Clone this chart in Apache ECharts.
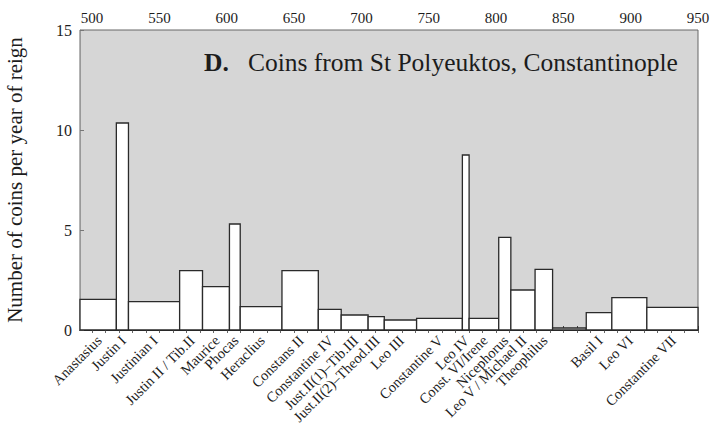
<!DOCTYPE html>
<html>
<head>
<meta charset="utf-8">
<script src="https://cdn.jsdelivr.net/npm/echarts@6/dist/echarts.min.js"></script>
<style>
  html, body { margin: 0; padding: 0; background: #fff; }
  #chart { width: 713px; height: 440px; }
</style>
</head>
<body>
<div id="chart"></div>
<script>
// Reigns of Byzantine emperors and coin finds per year of reign
const rulers = ['Anastasius', 'Justin I', 'Justinian I', 'Justin II / Tib.II', 'Maurice', 'Phocas',
  'Heraclius', 'Constans II', 'Constantine IV', 'Just.II(1)\u2013Tib.III', 'Just.II(2)\u2013Theod.III',
  'Leo III', 'Constantine V', 'Leo IV', 'Const. VI/Irene', 'Nicephorus', 'Leo V / Michael II',
  'Theophilus', '', 'Basil I', 'Leo VI', 'Constantine VII'];
const reignStart = [491, 518, 527, 565, 582, 602, 610, 641, 668, 685, 705, 717, 741, 775, 780, 802, 811, 829, 842, 867, 886, 912];
const reignEnd   = [518, 527, 565, 582, 602, 610, 641, 668, 685, 705, 717, 741, 775, 780, 802, 811, 829, 842, 867, 886, 912, 959];
const coinsPerYear = [1.53, 10.35, 1.42, 2.97, 2.17, 5.3, 1.17, 2.97, 1.03, 0.75, 0.67, 0.5, 0.58, 8.75, 0.58, 4.63, 2.0, 3.03, 0.1, 0.87, 1.62, 1.13];
const yearTicks = [500, 550, 600, 650, 700, 750, 800, 850, 900, 950];
const yTicks = [0, 5, 10, 15];

const SERIF = '"Liberation Serif", "DejaVu Serif", serif';
const INK = '#1c1c1c';
const decadeTicks = [];
for (let y = 500; y <= 950; y += 10) decadeTicks.push(y);

const chart = echarts.init(document.getElementById('chart'), null, { renderer: 'svg' });

function renderReign(params, api) {
  const x0 = api.value(0), x1 = api.value(1), v = api.value(2);
  const base = api.coord([x0, 0]);
  const topRight = api.coord([x1, v]);
  const cs = params.coordSys;
  const left = Math.max(base[0], cs.x);
  const right = Math.min(topRight[0], cs.x + cs.width);
  const name = rulers[params.dataIndex];
  const children = [{
    type: 'rect',
    shape: { x: left, y: topRight[1], width: right - left, height: base[1] - topRight[1] },
    style: { fill: '#ffffff', stroke: '#2a2a2a', lineWidth: 1.3 }
  }];
  if (name) {
    children.push({
      type: 'text',
      x: (left + right) / 2 + 1,
      y: base[1] + 8,
      rotation: Math.PI / 4,
      style: {
        text: name, textAlign: 'right', textVerticalAlign: 'middle',
        fontFamily: SERIF, fontSize: 14.5, fill: INK
      }
    });
  }
  return { type: 'group', children: children };
}

chart.setOption({
  animation: false,
  title: {
    text: '{b|D.}   Coins from St Polyeuktos, Constantinople',
    left: 199, top: 44,
    textStyle: {
      fontFamily: SERIF, fontSize: 25.5, fontWeight: 'normal', color: INK,
      rich: { b: { fontFamily: SERIF, fontSize: 25.5, fontWeight: 'bold', color: INK } }
    }
  },
  grid: {
    left: 80, right: 15, top: 30, bottom: 110,
    containLabel: false, outerBoundsMode: 'none',
    show: true, backgroundColor: '#d6d6d6', borderColor: '#666', borderWidth: 1
  },
  xAxis: [{
    type: 'value', position: 'top', min: 491, max: 950,
    splitLine: { show: false },
    axisLine: { show: true, lineStyle: { color: '#777', width: 1 } },
    axisTick: { show: true, inside: true, length: 3, customValues: decadeTicks, lineStyle: { color: '#666' } },
    axisLabel: {
      customValues: yearTicks, margin: 5,
      fontFamily: SERIF, fontSize: 15, color: INK
    }
  }, {
    type: 'value', position: 'bottom', min: 491, max: 950,
    splitLine: { show: false },
    axisLine: { show: true, lineStyle: { color: '#222', width: 1.2 } },
    axisTick: { show: true, inside: true, length: 4, customValues: decadeTicks, lineStyle: { color: '#444' } },
    axisLabel: { show: false }
  }],
  yAxis: {
    type: 'value', min: 0, max: 15,
    splitLine: { show: false },
    axisLine: { show: true, lineStyle: { color: '#999' } },
    axisTick: { show: true, inside: true, length: 4, customValues: yTicks, lineStyle: { color: '#777' } },
    axisLabel: { customValues: yTicks, margin: 8, fontFamily: SERIF, fontSize: 16, color: INK },
    name: 'Number of coins per year of reign',
    nameLocation: 'middle', nameGap: 55, nameRotate: 90,
    nameTextStyle: { fontFamily: SERIF, fontSize: 21, color: INK }
  },
  series: [{
    type: 'custom',
    xAxisIndex: 1,
    clip: false,
    renderItem: renderReign,
    encode: { x: [0, 1], y: 2 },
    data: rulers.map((r, i) => [reignStart[i], reignEnd[i], coinsPerYear[i]])
  }]
});
</script>
</body>
</html>
